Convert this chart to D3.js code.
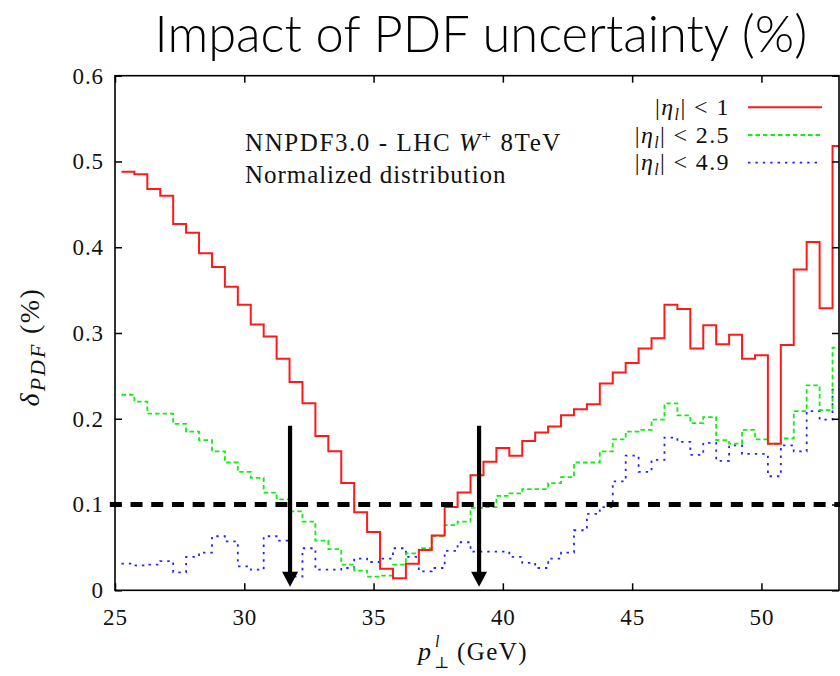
<!DOCTYPE html>
<html>
<head>
<meta charset="utf-8">
<script src="https://cdn.jsdelivr.net/npm/d3@7/dist/d3.min.js"></script>
<style>
  html, body { margin: 0; padding: 0; background: #fff; }
  svg { display: block; }
  .serif { font-family: "Liberation Serif", "DejaVu Serif", serif; fill: #111; }
</style>
</head>
<body>
<svg id="chart" width="840" height="676"></svg>
<script>
// Lepton transverse momentum bins (bin centres, GeV)
const binCentres = [
  25.25, 25.75, 26.25, 26.75, 27.25, 27.75, 28.25, 28.75, 29.25, 29.75,
  30.25, 30.75, 31.25, 31.75, 32.25, 32.75, 33.25, 33.75, 34.25, 34.75,
  35.25, 35.75, 36.25, 36.75, 37.25, 37.75, 38.25, 38.75, 39.25, 39.75,
  40.25, 40.75, 41.25, 41.75, 42.25, 42.75, 43.25, 43.75, 44.25, 44.75,
  45.25, 45.75, 46.25, 46.75, 47.25, 47.75, 48.25, 48.75, 49.25, 49.75,
  50.25, 50.75, 51.25, 51.75, 52.25, 52.75
];
const binWidth = 0.5;

// PDF uncertainty (%) for each rapidity cut
const etaLt1 = [
  0.488, 0.485, 0.468, 0.460, 0.427, 0.417, 0.393, 0.377, 0.354, 0.333,
  0.310, 0.296, 0.270, 0.243, 0.218, 0.180, 0.162, 0.125, 0.091, 0.068,
  0.025, 0.014, 0.031, 0.047, 0.064, 0.097, 0.114, 0.134, 0.150, 0.166,
  0.157, 0.174, 0.184, 0.191, 0.204, 0.211, 0.217, 0.241, 0.254, 0.265,
  0.282, 0.294, 0.333, 0.328, 0.282, 0.309, 0.287, 0.298, 0.270, 0.274,
  0.171, 0.286, 0.374, 0.406, 0.329, 0.518
];
const etaLt25 = [
  0.228, 0.220, 0.206, 0.206, 0.194, 0.185, 0.175, 0.162, 0.149, 0.138,
  0.131, 0.114, 0.106, 0.092, 0.080, 0.058, 0.048, 0.030, 0.023, 0.016,
  0.017, 0.030, 0.043, 0.049, 0.063, 0.076, 0.080, 0.096, 0.097, 0.110,
  0.113, 0.118, 0.118, 0.125, 0.132, 0.149, 0.149, 0.162, 0.176, 0.185,
  0.187, 0.199, 0.218, 0.204, 0.195, 0.202, 0.175, 0.171, 0.187, 0.176,
  0.171, 0.177, 0.209, 0.239, 0.210, 0.283
];
const etaLt49 = [
  0.031, 0.029, 0.030, 0.034, 0.021, 0.039, 0.044, 0.063, 0.057, 0.028,
  0.024, 0.063, 0.058, 0.016, 0.049, 0.024, 0.024, 0.026, 0.037, 0.033,
  0.037, 0.049, 0.039, 0.022, 0.026, 0.046, 0.056, 0.045, 0.045, 0.045,
  0.039, 0.032, 0.026, 0.037, 0.044, 0.070, 0.089, 0.097, 0.127, 0.157,
  0.138, 0.152, 0.178, 0.173, 0.158, 0.172, 0.151, 0.169, 0.159, 0.159,
  0.133, 0.169, 0.162, 0.209, 0.199, 0.234
];

const seriesNames = ["1", "2.5", "4.9"];
const seriesColors = ["#ff1a1a", "#11ee11", "#2222ff"];
const seriesDash = [null, "4.5,3", "2.4,5"];

// Axis ticks
const xTicks = [25, 30, 35, 40, 45, 50];
const yTicks = [0, 0.1, 0.2, 0.3, 0.4, 0.5, 0.6];
const yTickLabels = ["0", "0.1", "0.2", "0.3", "0.4", "0.5", "0.6"];

// Threshold line and the two crossing markers
const threshold = 0.1;
const arrowX = [31.77, 39.08];
const arrowTop = 0.192;
const arrowTip = 0.004;

const svg = d3.select("#chart");
const plot = { left: 115, right: 839, top: 75.7, bottom: 590.3 };

const x = d3.scaleLinear().domain([25, 53]).range([plot.left, plot.right]);
const y = d3.scaleLinear().domain([0, 0.6]).range([plot.bottom, plot.top]);

// Spread a text's glyphs so it spans the given width
function fitWidth(sel, target) {
  const node = sel.node();
  const n = node.textContent.length;
  const w = node.getBBox().width;
  sel.style("letter-spacing", ((target - w) / n) + "px");
  return sel;
}

// Title
const title = svg.append("text")
  .attr("x", 481).attr("y", 52)
  .attr("text-anchor", "middle")
  .style("font-family", "Lato, 'Open Sans', sans-serif")
  .style("font-weight", 300)
  .style("font-size", "50px")
  .style("fill", "#000")
  .text("Impact of PDF uncertainty (%)");
{
  const w = title.node().getComputedTextLength();
  title.style("font-size", (50 * 653 / w) + "px");
}

// Clip region for the histograms
svg.append("defs").append("clipPath").attr("id", "plotClip")
  .append("rect")
  .attr("x", plot.left).attr("y", plot.top)
  .attr("width", plot.right - plot.left).attr("height", plot.bottom - plot.top);

// Step histograms: each value holds from its bin centre to the next one
const stepLine = d3.line()
  .x(d => x(d[0]))
  .y(d => y(d[1]))
  .curve(d3.curveStepAfter);

function stepPoints(values) {
  const pts = binCentres.map((c, i) => [c, values[i]]);
  const last = pts[pts.length - 1];
  pts.push([last[0] + binWidth, last[1]]);
  return pts;
}

const series = [etaLt1, etaLt25, etaLt49];
const gSeries = svg.append("g").attr("clip-path", "url(#plotClip)");
// blue first, red on top
[2, 1, 0].forEach(k => {
  gSeries.append("path")
    .attr("d", stepLine(stepPoints(series[k])))
    .attr("fill", "none")
    .attr("stroke", seriesColors[k])
    .attr("stroke-width", k === 0 ? 2 : 1.8)
    .attr("stroke-dasharray", seriesDash[k]);
});

// Threshold line at 0.1
svg.append("line")
  .attr("x1", x(24.8)).attr("x2", x(53.04))
  .attr("y1", y(threshold)).attr("y2", y(threshold))
  .attr("stroke", "#000")
  .attr("stroke-width", 5)
  .attr("stroke-dasharray", "12,8.7");

// Arrows
arrowX.forEach(ax => {
  const px = x(ax);
  const headH = 15, headW = 16;
  svg.append("line")
    .attr("x1", px).attr("x2", px)
    .attr("y1", y(arrowTop)).attr("y2", y(arrowTip) - headH + 2)
    .attr("stroke", "#000").attr("stroke-width", 4.2);
  svg.append("path")
    .attr("d", `M${px - headW / 2},${y(arrowTip) - headH} L${px + headW / 2},${y(arrowTip) - headH} L${px},${y(arrowTip)} Z`)
    .attr("fill", "#000");
});

// Axes (ticks drawn inward on all four sides)
const tick = 7;
const tickFont = g => g.selectAll("text")
  .style("font-family", "'Liberation Serif', serif")
  .style("font-size", "23px")
  .style("letter-spacing", "0.9px")
  .attr("fill", "#111");

svg.append("g")
  .attr("transform", `translate(0,${plot.bottom})`)
  .call(d3.axisBottom(x).tickValues(xTicks).tickSizeInner(-tick).tickSizeOuter(0).tickPadding(18).tickFormat(d3.format("d")))
  .call(g => g.select(".domain").remove())
  .call(g => g.selectAll("line").attr("stroke", "#000").attr("stroke-width", 1.5))
  .call(tickFont);

svg.append("g")
  .attr("transform", `translate(${plot.left},0)`)
  .call(d3.axisLeft(y).tickValues(yTicks).tickSizeInner(-tick).tickSizeOuter(0).tickPadding(11)
    .tickFormat((d, i) => yTickLabels[i]))
  .call(g => g.select(".domain").remove())
  .call(g => g.selectAll("line").attr("stroke", "#000").attr("stroke-width", 1.5))
  .call(tickFont);

svg.append("g")
  .attr("transform", `translate(0,${plot.top})`)
  .call(d3.axisTop(x).tickValues(xTicks).tickSizeInner(-tick).tickSizeOuter(0).tickFormat(""))
  .call(g => g.select(".domain").remove())
  .call(g => g.selectAll("line").attr("stroke", "#000").attr("stroke-width", 1.5));

svg.append("g")
  .attr("transform", `translate(${plot.right},0)`)
  .call(d3.axisRight(y).tickValues(yTicks).tickSizeInner(-tick).tickSizeOuter(0).tickFormat(""))
  .call(g => g.select(".domain").remove())
  .call(g => g.selectAll("line").attr("stroke", "#000").attr("stroke-width", 1.5));

// Frame
svg.append("rect")
  .attr("x", plot.left).attr("y", plot.top)
  .attr("width", plot.right - plot.left).attr("height", plot.bottom - plot.top)
  .attr("fill", "none").attr("stroke", "#000").attr("stroke-width", 1.6);

// Annotation text
const note = svg.append("text").attr("class", "serif").style("font-size", "25px")
  .attr("x", 245).attr("y", 150.5);
note.append("tspan").text("NNPDF3.0 - LHC ");
note.append("tspan").style("font-style", "italic").text("W");
note.append("tspan").attr("dy", -9).style("font-size", "17px").text("+");
note.append("tspan").attr("dy", 9).text(" 8TeV");
fitWidth(note, 317);
const note2 = svg.append("text").attr("class", "serif").style("font-size", "25px")
  .attr("x", 245).attr("y", 183.3).text("Normalized distribution");
fitWidth(note2, 262);

// Legend
const legendY = [107.3, 135, 162.7];
const legendW = [78, 98, 98];
seriesNames.forEach((name, i) => {
  const t = svg.append("text").attr("class", "serif").style("font-size", "24px")
    .attr("x", 0).attr("y", legendY[i] + 7.5);
  t.append("tspan").text("|");
  t.append("tspan").style("font-style", "italic").text("η");
  t.append("tspan").style("font-style", "italic").style("font-size", "16px").attr("dy", 5).text("l");
  t.append("tspan").attr("dy", -5).text("|  <  " + name);
  fitWidth(t, legendW[i]);
  const bb = t.node().getBBox();
  t.attr("x", 730 - bb.width);
  svg.append("line")
    .attr("x1", 748).attr("x2", 822)
    .attr("y1", legendY[i]).attr("y2", legendY[i])
    .attr("stroke", seriesColors[i])
    .attr("stroke-width", i === 0 ? 2 : 1.8)
    .attr("stroke-dasharray", seriesDash[i]);
});

// Y axis label (reads bottom to top), centred on the plot height
const yl = svg.append("text").attr("class", "serif")
  .attr("text-anchor", "middle")
  .attr("transform", "translate(39,347) rotate(-90)")
  .style("font-size", "28px");
yl.append("tspan").style("font-style", "italic").text("δ");
yl.append("tspan").style("font-style", "italic").style("font-size", "22px")
  .style("letter-spacing", "2px").attr("dx", 2).attr("dy", 6).text("PDF");
yl.append("tspan").attr("dy", -6).style("letter-spacing", "1.5px").text("  (%)");

// X axis label
const xlg = svg.append("g").attr("class", "serif");
xlg.append("text").style("font-size", "26px").style("font-style", "italic")
  .attr("x", 418).attr("y", 660).text("p");
xlg.append("text").style("font-size", "16px").style("font-style", "italic")
  .attr("x", 435).attr("y", 647).text("l");
xlg.append("text").style("font-size", "16px")
  .attr("x", 434).attr("y", 668).text("⊥");
const gev = xlg.append("text").style("font-size", "25px")
  .attr("x", 457).attr("y", 660).text("(GeV)");
fitWidth(gev, 71);
</script>
</body>
</html>
